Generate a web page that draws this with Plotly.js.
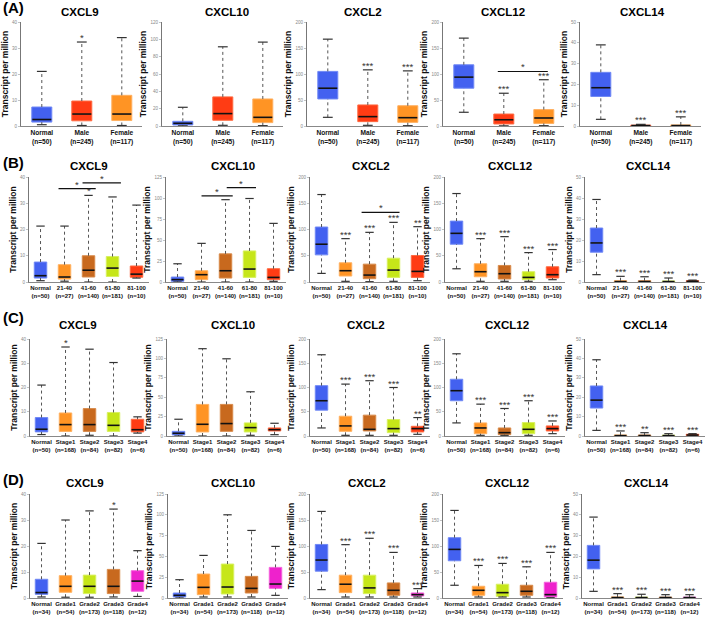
<!DOCTYPE html>
<html><head><meta charset="utf-8">
<script src="https://cdn.plot.ly/plotly-3.0.1.min.js"></script>
<style>html,body{margin:0;padding:0;background:#fff}#chart{width:720px;height:622px}</style>
</head><body><div id="chart"></div>
<script>
// ---------- DATA ----------
const genes = ['CXCL9', 'CXCL10', 'CXCL2', 'CXCL12', 'CXCL14'];
const catsA = ['Normal<br>(n=50)', 'Male<br>(n=245)', 'Female<br>(n=117)'];
const catsB = ['Normal<br>(n=50)', '21-40<br>(n=27)', '41-60<br>(n=140)', '61-80<br>(n=181)', '81-100<br>(n=10)'];
const catsC = ['Normal<br>(n=50)', 'Stage1<br>(n=168)', 'Stage2<br>(n=84)', 'Stage3<br>(n=82)', 'Stage4<br>(n=6)'];
const catsD = ['Normal<br>(n=34)', 'Grade1<br>(n=54)', 'Grade2<br>(n=173)', 'Grade3<br>(n=118)', 'Grade4<br>(n=12)'];

// each row: [lower whisker, Q1, median, Q3, upper whisker]
const A_CXCL9  = [[0.5,1.5,2.5,7.3,21],[0.2,2.0,4.6,9.6,32.3],[0.2,2.1,4.6,11.8,34]];
const A_CXCL10 = [[0.2,1.2,3.1,5.4,21.6],[0.8,6.6,14.3,33.6,91.4],[0.4,3.9,10,31.2,96.8]];
const A_CXCL2  = [[16.7,52,72.7,105,167],[1.3,8.4,18,40.5,108],[0.6,7,16,39,106]];
const A_CXCL12 = [[26.4,72.7,94,117.7,169],[0.3,3.9,12,23,63],[0.6,5,15.4,31.5,89]];
const A_CXCL14 = [[3.2,14.2,18.4,25.8,39],[0,0.05,0.2,0.4,0.8],[0,0.05,0.2,0.5,4.4]];

const B_CXCL9  = [[0.5,1.5,2.4,7.6,21.3],[0.3,1.1,1.9,6.6,21.3],[0,1.9,4.5,10,33],[0,2.1,5.3,9.7,32.4],[1.5,1.8,3,6.1,29.3]];
const B_CXCL10 = [[0,0.8,2.8,5.9,21.7],[0,2.8,8.7,13.4,46],[0,4.7,13.4,33.5,98],[0,5.5,15.4,37,99.4],[0.8,2.8,5.5,15.8,69.8]];
const B_CXCL2  = [[16.4,51.7,72,104.7,166.6],[1.3,11.4,21.5,36.6,82.6],[0.6,6.3,13.2,34,94.6],[1.3,8.8,22.7,45.4,113.6],[2.5,8.8,20.2,50.5,105.4]];
const B_CXCL12 = [[25.2,72,92.7,116,168.5],[1.3,10,19.6,34.7,82.6],[1.3,5.7,15.8,31.5,86.4],[1.3,4.4,8.8,19.6,56],[4.4,7.6,13.9,29,61.8]];
const B_CXCL14 = [[3.5,14.2,18.6,25.7,39.3],[0,0.05,0.2,0.6,2.7],[0,0.05,0.2,0.6,2.5],[0,0.05,0.2,0.5,1.9],[0.1,0.2,0.35,0.6,0.9]];

const C_CXCL9  = [[0.6,1.7,2.8,7.6,21],[0,1.9,4.7,9.5,36.7],[0.3,1.9,4.7,11.3,35.8],[0,1.9,4.4,9.7,30.3],[1.2,1.7,2.6,6.9,7.9]];
const C_CXCL10 = [[0,1.3,3.5,6,21.6],[0,5.2,15.1,40.7,112.5],[0,6,16,40.7,99.5],[0.9,5.2,10.8,16.9,57],[1.7,6.5,8.2,10.4,16.4]];
const C_CXCL2  = [[16.6,53.3,72.7,103.8,167.5],[1.4,9.7,20.8,40.8,107],[1.4,10.4,13.8,43,114],[1.4,6.9,15.2,34,100],[3.5,8.3,15.2,20,38]];
const C_CXCL12 = [[27,72.7,93.4,117,169.5],[1.4,4.8,16.6,27,65.7],[1.4,2.8,6.9,16.6,56.7],[1.4,4.8,13.8,27.7,72.7],[4.8,10.4,15.2,20.8,31]];
const C_CXCL14 = [[2.9,14.4,18.5,25.8,39.3],[0,0.05,0.2,0.5,2.6],[0,0.05,0.2,0.5,1.7],[0,0.05,0.2,0.4,1.2],[0.1,0.2,0.5,0.9,1.2]];

const D_CXCL9  = [[0.4,1.4,2.1,7.2,21],[0.3,2.2,4.5,8.6,30],[0.3,1.7,4.5,8.8,33.5],[0.4,1.7,4.5,11,34.2],[0.6,2.6,6.5,10.5,18.2]];
const D_CXCL10 = [[0,1.2,3.2,6,22],[1.2,4,12.8,28.8,51.2],[1.2,4.8,13.2,40.8,100],[1.2,6,11.6,26,81.2],[3.2,11.6,16.8,36.8,62]];
const D_CXCL2  = [[16.1,51.6,73,103,166.5],[1.9,10.3,26.5,43.9,102.6],[1.9,8.4,19.4,43.9,114.8],[1.9,5.2,14.8,29,87.7],[1.9,3.9,6.5,9.7,18]];
const D_CXCL12 = [[24.5,71.6,93.5,116,168.4],[1.9,5.2,14.8,22.6,62.6],[1.9,3.2,10.3,26.5,66.5],[1.9,5.2,12.9,24.5,60],[0.6,1.9,6.5,30.3,87.7]];
const D_CXCL14 = [[3.2,14,18.2,25.3,38.9],[0,0.05,0.2,0.5,2.1],[0,0.05,0.2,0.4,1.8],[0,0.05,0.2,0.4,1.6],[0,0.05,0.2,0.4,1.6]];

// significance marks vs Normal
const sigA = [['','*',''],['','',''],['','***','***'],['','***','***'],['','***','***']];
const sigB = [['','','*','',''],['','','','',''],['','***','***','***','**'],['','***','***','***','***'],['','***','***','***','***']];
const sigC = [['','*','','',''],['','','','',''],['','***','***','***','**'],['','***','***','***','***'],['','***','**','***','***']];
const sigD = [['','','','*',''],['','','','',''],['','***','***','***','***'],['','***','***','***','***'],['','***','***','***','***']];

// pairwise comparison brackets: [from category, to category, value, label]
const barsA = [[],[],[],[[0.85,2.1,104.8,'*']],[]];
const barsB = [[[0.75,2.3,35.6,'*'],[1.75,3.35,37.8,'*']],[[1.0,2.3,102.5,'*'],[2.05,3.27,112.4,'*']],[[1.67,3.25,132.5,'*']],[],[]];
const barsC = [[],[],[],[],[]];
const barsD = [[],[],[],[],[]];

const yMaxA = [40,120,200,200,50];
const yMaxBCD = [40,125,200,200,50];
const yStepA = [10,20,50,50,10];
const yStepBCD = [10,25,50,50,10];

// ---------- STYLE / LAYOUT ----------
const BLUE='#4361f0', RED='#ff3c14', ORANGE='#ff9424', BROWN='#c8691e', LIME='#c6e619', MAGENTA='#ee22cc';
const EDGE = {};
EDGE[BLUE]='#6f88f5'; EDGE[RED]='#ff6a40'; EDGE[ORANGE]='#ffb060'; EDGE[BROWN]='#d88a4a'; EDGE[LIME]='#d8f060'; EDGE[MAGENTA]='#f560dc';
const FONT = 'Liberation Sans, Arial, Helvetica, sans-serif';
const W = 720, H = 622;

const rows = [
  {letter:'(A)', cats:catsA, colors:[BLUE,RED,ORANGE], data:[A_CXCL9,A_CXCL10,A_CXCL2,A_CXCL12,A_CXCL14], sig:sigA, bars:barsA,
   ymax:yMaxA, ystep:yStepA, xstart:[21,162,307,443,580], spacing:40, xr:[-0.52,2.5], ytop:22, ybot:126,
   boxw:0.5, cap:7, med:13.6, tfs:6.6, titleY:12, titleX:[80,227,363,503,642], letterY:8},
  {letter:'(B)', cats:catsB, colors:[BLUE,ORANGE,BROWN,LIME,RED], data:[B_CXCL9,B_CXCL10,B_CXCL2,B_CXCL12,B_CXCL14], sig:sigB, bars:barsB,
   ymax:yMaxBCD, ystep:yStepBCD, xstart:[29,166,310,445,585], spacing:24, xr:[-0.48,4.5], ytop:177, ybot:282,
   boxw:0.52, cap:6, med:8.6, tfs:6, titleY:166, titleX:[89,233,371,510,648], letterY:162},
  {letter:'(C)', cats:catsC, colors:[BLUE,ORANGE,BROWN,LIME,RED], data:[C_CXCL9,C_CXCL10,C_CXCL2,C_CXCL12,C_CXCL14], sig:sigC, bars:barsC,
   ymax:yMaxBCD, ystep:yStepBCD, xstart:[30,167,310,445,585], spacing:24, xr:[-0.48,4.5], ytop:339, ybot:436,
   boxw:0.52, cap:6, med:8.6, tfs:6, titleY:325, titleX:[78,233,366,507,645], letterY:317},
  {letter:'(D)', cats:catsD, colors:[BLUE,ORANGE,LIME,BROWN,MAGENTA], data:[D_CXCL9,D_CXCL10,D_CXCL2,D_CXCL12,D_CXCL14], sig:sigD, bars:barsD,
   ymax:yMaxBCD, ystep:yStepBCD, xstart:[30,168,310,443,582], spacing:24, xr:[-0.48,4.5], ytop:494, ybot:598,
   boxw:0.52, cap:6, med:8.6, tfs:6, titleY:483, titleX:[85,233,367,507,646], letterY:479}
];

const traces = [];
const layout = {
  width: W, height: H, margin:{l:0,r:0,t:0,b:0}, paper_bgcolor:'#fff', plot_bgcolor:'rgba(0,0,0,0)',
  showlegend:false, font:{family:FONT, color:'#111'}, annotations:[], shapes:[], boxmode:'overlay'
};

rows.forEach((row, r) => {
  layout.annotations.push({xref:'paper', yref:'paper', x:1/W, y:1-row.letterY/H, xanchor:'left', yanchor:'middle',
    text:'<b>'+row.letter+'</b>', showarrow:false, font:{size:15, color:'#000'}});
  genes.forEach((g, c) => {
    const k = r*5 + c + 1;
    const xa = 'x'+k, ya = 'y'+k;
    const x0 = row.xstart[c];
    const x1 = x0 + (row.xr[1]-row.xr[0]) * row.spacing;
    layout['xaxis'+k] = {domain:[x0/W, x1/W], range:row.xr, anchor:ya, showgrid:false, zeroline:false,
      showline:true, linecolor:'#888', linewidth:1, ticks:'', tickvals:row.cats.map((_,i)=>i),
      ticktext:row.cats.map(t=>'<b>'+t+'</b>'), tickfont:{size:row.tfs, color:'#111'}, fixedrange:true};
    layout['yaxis'+k] = {domain:[1-row.ybot/H, 1-row.ytop/H], range:[0,row.ymax[c]], anchor:xa, showgrid:false, zeroline:false,
      showline:true, linecolor:'#777', linewidth:1, ticks:'outside', ticklen:2, tickwidth:0.6, tickcolor:'#999',
      dtick:row.ystep[c], tick0:0, tickfont:{size:4.5, color:'#888'},
      title:{text:'<b>Transcript per million</b>', font:{size:8.5, color:'#111'}, standoff:2}, fixedrange:true};
    layout.annotations.push({xref:'paper', yref:'paper', x:row.titleX[c]/W, y:1-row.titleY/H, xanchor:'center', yanchor:'middle',
      text:'<b>'+g+'</b>', showarrow:false, font:{size:11.5, color:'#000'}});

    const d = row.data[c];
    const wx = [], wy = [], cx = [], cy = [], mx = [], my = [];
    d.forEach((s, i) => {
      const col = row.colors[i];
      traces.push({type:'box', x:[i], q1:[s[1]], median:[s[2]], q3:[s[3]], lowerfence:[s[1]], upperfence:[s[3]],
        fillcolor:col, line:{color:EDGE[col], width:1}, width:row.boxw, whiskerwidth:0,
        xaxis:xa, yaxis:ya, hoverinfo:'skip', showlegend:false});
      wx.push(i,i,null,i,i,null); wy.push(s[0],s[1],null,s[3],s[4],null);
      cx.push(i,i); cy.push(s[0],s[4]);
      mx.push(i); my.push(s[2]);
      const sg = row.sig[c][i];
      if (sg) layout.annotations.push({xref:xa, yref:ya, x:i, y:s[4], yanchor:'bottom', yshift:-3, text:sg,
        showarrow:false, font:{size:9.5, color:'#333'}});
    });
    traces.push({type:'scatter', mode:'lines', x:wx, y:wy, xaxis:xa, yaxis:ya, line:{color:'#555', width:1, dash:'dot'},
      hoverinfo:'skip', showlegend:false, cliponaxis:false});
    traces.push({type:'scatter', mode:'markers', x:cx, y:cy, xaxis:xa, yaxis:ya,
      marker:{symbol:'line-ew', size:row.cap, line:{color:'#333', width:1.2}}, hoverinfo:'skip', showlegend:false, cliponaxis:false});
    traces.push({type:'scatter', mode:'markers', x:mx, y:my, xaxis:xa, yaxis:ya,
      marker:{symbol:'line-ew', size:row.med, line:{color:'#111', width:1.6}}, hoverinfo:'skip', showlegend:false, cliponaxis:false});
    row.bars[c].forEach(b => {
      layout.shapes.push({type:'line', xref:xa, yref:ya, x0:b[0], x1:b[1], y0:b[2], y1:b[2], line:{color:'#111', width:1.2}});
      layout.annotations.push({xref:xa, yref:ya, x:(b[0]+b[1])/2, y:b[2], yanchor:'bottom', yshift:-3, text:b[3],
        showarrow:false, font:{size:9.5, color:'#333'}});
    });
  });
});

Plotly.newPlot('chart', traces, layout, {staticPlot:true, displayModeBar:false});
</script></body></html>
